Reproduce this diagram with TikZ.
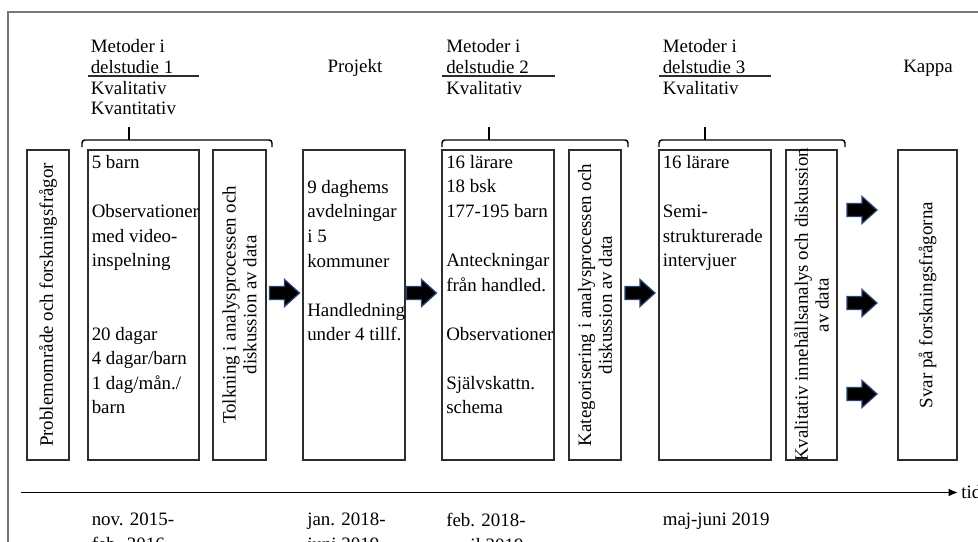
\documentclass[tikz,border=0pt]{standalone}
\usepackage{fontspec}
\setmainfont{Liberation Serif}
\usetikzlibrary{arrows.meta,calc}
\definecolor{boxline}{RGB}{45,45,45}
\definecolor{framegray}{RGB}{120,120,120}
\definecolor{arrowedge}{RGB}{40,70,115}
\begin{document}
\begin{tikzpicture}[x=0.75pt,y=-0.75pt,
  box/.style={draw=boxline, line width=0.9pt, inner sep=0pt, minimum height=232.5pt},
  txt/.style={font=\fontsize{14.2pt}{18.4pt}\selectfont, inner sep=0pt, anchor=north west, align=left},
  head/.style={font=\fontsize{14.2pt}{15.5pt}\selectfont, inner sep=0pt, anchor=north west, align=left},
  rot/.style={font=\fontsize{14.2pt}{15.6pt}\selectfont, inner sep=0pt, rotate=90, align=center},
  brace/.style={line width=1.1pt, rounded corners=2.2pt},
  uline/.style={line width=0.8pt, draw=boxline},
  blockarr/.pic={\filldraw[fill=black, draw=arrowedge, line width=0.9pt]
     (-15,-6.5) -- (0,-6.5) -- (0,-13.5) -- (15,0) -- (0,13.5) -- (0,6.5) -- (-15,6.5) -- cycle;}
]
\useasboundingbox (0,0) rectangle (978,542);
\clip (0,0) rectangle (978,542);
\fill[white] (0,0) rectangle (978,542);
% outer frame (cut by the image edge)
\draw[framegray, line width=1.2pt] (8,560) -- (8,12) -- (990,12);

% boxes
\node[box, minimum width=31.5pt]  (A) at (48,305) {};
\node[box, minimum width=83.25pt] (B) at (143.5,305) {};
\node[box, minimum width=39.75pt] (C) at (239.5,305) {};
\node[box, minimum width=76.5pt]  (D) at (354,305) {};
\node[box, minimum width=84pt]    (E) at (498,305) {};
\node[box, minimum width=39pt]    (F) at (595,305) {};
\node[box, minimum width=84pt]    (G) at (715,305) {};
\node[box, minimum width=38.25pt] (H) at (811.5,305) {};
\node[box, minimum width=44.25pt] (I) at (927.5,305) {};

% rotated texts
\node[rot] (tA) at (A.center) {Problemområde och forskningsfrågor};
\node[rot] (tC) at (C.center) {Tolkning i analysprocessen och\\diskussion av data};
\node[rot] (tF) at (F.center) {Kategorisering i analysprocessen och\\diskussion av data};
\node[rot] (tH) at (H.center) {Kvalitativ innehållsanalys och diskussion\\av data};
\node[rot] (tI) at (I.center) {Svar på forskningsfrågorna};

% box texts
\node[txt] (tB) at (91.5,155) {5 barn\\~\\Observationer\\med video-\\inspelning\\~\\~\\20 dagar\\4 dagar/barn\\1 dag/mån./\\barn};
\node[txt] (tD) at (307,180) {9 daghems\\avdelningar\\i 5\\kommuner\\~\\Handledning\\under 4 tillf.};
\node[txt] (tE) at (446,155) {16 lärare\\18 bsk\\177-195 barn\\~\\Anteckningar\\från handled.\\~\\Observationer\\~\\Självskattn.\\schema};
\node[txt] (tG) at (662.5,155) {16 lärare\\~\\Semi-\\strukturerade\\intervjuer};

% headers
\node[head] (h1) at (90.5,39.5) {Metoder i\\delstudie 1\\Kvalitativ\\Kvantitativ};
\node[head] (h2) at (446,39.5) {Metoder i\\delstudie 2\\Kvalitativ};
\node[head] (h3) at (662.5,39.5) {Metoder i\\delstudie 3\\Kvalitativ};
\node[head, anchor=base] (hP) at (355,73) {Projekt};
\node[head, anchor=base] (hK) at (928,73) {Kappa};

% underlines
\draw[uline] (88,76) -- (199,76);
\draw[uline] (442,76) -- (555,76);
\draw[uline] (659,76) -- (771,76);

% brackets
\draw[brace] (82,147) -- (82,140) -- (272,140) -- (272,147);
\draw[line width=1.1pt] (129,127) -- (129,140);
\draw[brace] (442,147) -- (442,140) -- (628,140) -- (628,147);
\draw[line width=1.1pt] (489,127) -- (489,140);
\draw[brace] (659,147) -- (659,140) -- (845,140) -- (845,147);
\draw[line width=1.1pt] (705,127) -- (705,140);

% block arrows
\pic (a1) at ($(C.east)!0.5!(D.west)+(0,-12)$) {blockarr};
\pic (a2) at ($(D.east)!0.5!(E.west)+(-2,-12)$) {blockarr};
\pic (a3) at ($(F.east)!0.5!(G.west)+(0,-12)$) {blockarr};
\pic (a4) at (862,210) {blockarr};
\pic (a5) at (862,303) {blockarr};
\pic (a6) at (862,394) {blockarr};

% time axis
\coordinate (t0) at (21,492.5);
\coordinate (t1) at (958,492.5);
\draw[line width=1.4pt, -{Latex[length=7pt,width=6pt]}] (t0) -- (t1);
\node[head, anchor=base west] (tid) at (961,498.5) {tid};

% dates
\node[txt] (d1) at (91.5,513) {nov. 2015-\\feb. 2016};
\node[txt] (d2) at (307,513) {jan. 2018-\\juni 2019};
\node[txt] (d3) at (446,513) {feb. 2018-\\april 2019};
\node[txt] (d4) at (662.5,513) {maj-juni 2019};
\end{tikzpicture}
\end{document}
